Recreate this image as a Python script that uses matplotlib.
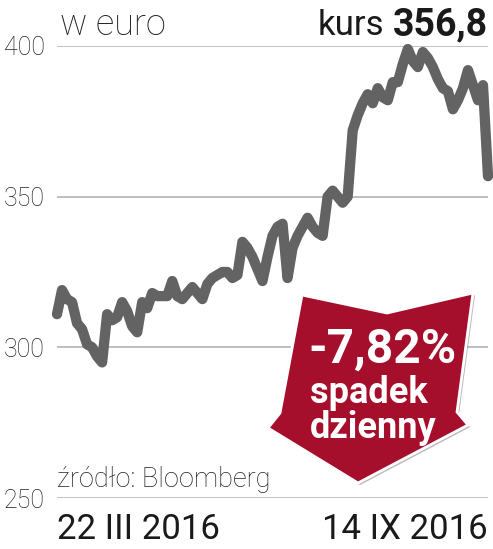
import matplotlib
matplotlib.use('Agg')
import matplotlib.pyplot as plt
from matplotlib.patches import Polygon
from matplotlib.transforms import Affine2D
import matplotlib.patheffects as pe

# ---- data ----
values = [311, 319, 316, 315, 308, 306, 301, 300, 297, 295,
          311, 309, 310, 315, 312, 307, 305, 315, 313, 318,
          317, 317, 317, 322, 317, 316, 318, 320, 318, 316,
          321, 323, 324, 325, 325, 323, 324, 335, 333, 330,
          326, 322, 330, 337, 340, 341, 323, 333, 337, 340,
          343, 340, 338, 337, 350, 352, 350, 348, 350, 372,
          377, 381, 384, 381, 386, 383, 382, 388, 388, 394,
          399, 395, 393, 398, 396, 393, 389, 386, 385, 379,
          382, 386, 392, 387, 382, 387, 356.8]
y_ticks = [250, 300, 350, 400]
x_labels = ["22 III 2016", "14 IX 2016"]
unit_label = "w euro"
price_word = "kurs"
price_value = "356,8"
change_text = "-7,82%"
change_lines = ["spadek", "dzienny"]
source_text = "źródło: Bloomberg"

W, H = 493, 549
plt.rcParams['font.family'] = ['Roboto', 'DejaVu Sans']
fig = plt.figure(figsize=(W / 100, H / 100), dpi=100)
px = Affine2D().scale(1 / W, -1 / H).translate(0, 1) + fig.transFigure

left, right, top, bottom = 57, 488, 46, 498
ax = fig.add_axes([left / W, 1 - bottom / H, (right - left) / W, (bottom - top) / H])
xs = list(range(len(values)))
ax.plot(xs, values, color='#636363', lw=7.4, solid_joinstyle='round',
        solid_capstyle='round', clip_on=False, zorder=3)
ax.set_xlim(0, len(values) - 1)
ax.set_ylim(y_ticks[0], y_ticks[-1])
ax.set_yticks(y_ticks)
ax.set_yticklabels([str(t) for t in y_ticks], fontsize=18, fontweight='light', color='#222222')
ax.tick_params(axis='y', length=0, pad=8.6)
ax.set_xticks([0, len(values) - 1])
ax.set_xticklabels(x_labels, fontsize=25, fontweight='normal', color='#1a1a1a')
lbls = ax.get_xticklabels()
lbls[0].set_ha('left')
lbls[1].set_ha('right')
ax.tick_params(axis='x', length=0, pad=10.5)
ax.grid(axis='y', color='#b4b4b4', lw=1.2)
ax.grid(axis='x', visible=False)
ax.set_axisbelow(True)
for s in ax.spines.values():
    s.set_visible(False)
ax.patch.set_visible(False)

# header texts
fig.text(60, 35, unit_label, transform=px, fontsize=26, fontweight='light',
         color='#222222', ha='left', va='baseline')
fig.text(488, 35, price_value, transform=px, fontsize=27, fontweight='bold',
         color='#1a1a1a', ha='right', va='baseline')
fig.text(384, 35, price_word, transform=px, fontsize=25, fontweight='normal',
         color='#1a1a1a', ha='right', va='baseline')

# source
fig.text(57, 487, source_text, transform=px, fontsize=19.5, fontweight='light',
         color='#222222', ha='left', va='baseline')

# red arrow
arrow_pts = [(302, 295), (387, 313), (473, 293), (457, 412), (468, 425),
             (358, 483), (268, 428), (280, 413)]
arrow = Polygon(arrow_pts, closed=True, transform=px, facecolor='#a60f2b',
                edgecolor='white', lw=2, zorder=5)
arrow.set_path_effects([pe.SimplePatchShadow(offset=(1.5, -1.5), shadow_rgbFace='#777777', alpha=0.5),
                        pe.Normal()])
fig.patches.append(arrow)
fig.text(308, 363, change_text, transform=px, fontsize=34.5, fontweight='bold',
         color='white', ha='left', va='baseline', zorder=6)
fig.text(310, 403, change_lines[0], transform=px, fontsize=26, fontweight='bold',
         color='white', ha='left', va='baseline', zorder=6)
fig.text(310, 438, change_lines[1], transform=px, fontsize=26, fontweight='bold',
         color='white', ha='left', va='baseline', zorder=6)

fig.savefig('out.png', dpi=100, facecolor='white')
